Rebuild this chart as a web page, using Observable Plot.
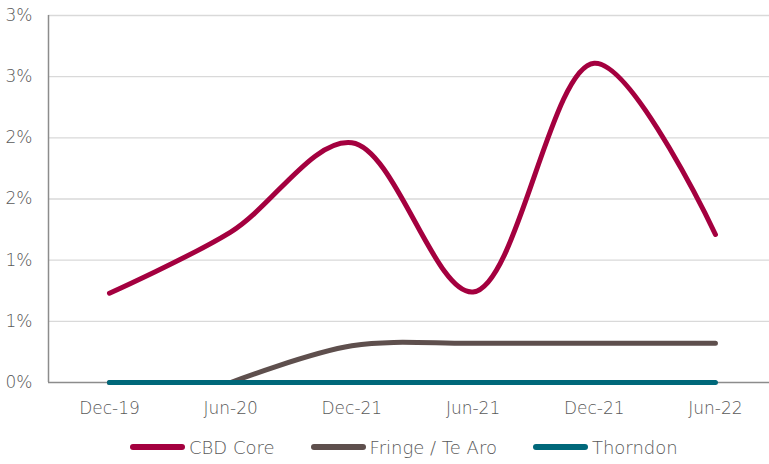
<!DOCTYPE html>
<html>
<head>
<meta charset="utf-8">
<script src="https://cdn.jsdelivr.net/npm/d3@7"></script>
<script src="https://cdn.jsdelivr.net/npm/@observablehq/plot@0.6"></script>
<style>
  html, body { margin: 0; padding: 0; background: #fff; }
  #chart { width: 769px; }
  svg text { font-weight: 200; }
  .legend { display: flex; justify-content: flex-start; align-items: center; height: 34px; padding-left: 130px;
    font-family: "DejaVu Sans", sans-serif; font-weight: 200; font-size: 18px; color: #595959; }
  .legend .item { display: flex; align-items: center; margin-right: 36px; }
  .legend .sw { width: 55px; height: 6px; border-radius: 3px; margin-right: 4px; }
</style>
</head>
<body>
<div id="chart"></div>
<script>
const categories = ["Dec-19", "Jun-20", "Dec-21", "Jun-21", "Dec-21", "Jun-22"];
const cbdCore = [0.73, 1.23, 1.96, 0.74, 2.61, 1.21];
const fringeTeAro = [0, 0, 0.30, 0.32, 0.32, 0.32];
const thorndon = [0, 0, 0, 0, 0, 0];
const yTicks = [0, 0.5, 1, 1.5, 2, 2.5, 3];
const yTickLabels = ["0%", "1%", "1%", "2%", "2%", "3%", "3%"];
const seriesNames = ["CBD Core", "Fringe / Te Aro", "Thorndon"];
const seriesColors = ["#A4003F", "#5E4F4D", "#00687A"];

const rows = (name, vals) => vals.map((v, i) => ({series: name, i, v}));
const cbdData = rows(seriesNames[0], cbdCore);
const fringeData = rows(seriesNames[1], fringeTeAro);
const thorndonData = rows(seriesNames[2], thorndon);
// the flat start of the Fringe series is drawn straight, the rest smoothed
const firstRise = fringeTeAro.findIndex(v => v > 0) - 1;

const lineOpts = {x: "i", y: "v", strokeWidth: 5, strokeLinecap: "round", strokeLinejoin: "round"};

const chart = Plot.plot({
  width: 769,
  height: 430,
  marginTop: 15,
  marginBottom: 48,
  marginLeft: 48,
  marginRight: 0,
  style: {fontFamily: "DejaVu Sans, sans-serif", fontSize: "17px", color: "#595959", background: "#fff"},
  x: {type: "linear", domain: [-0.503, 5.446], ticks: d3.range(categories.length),
      tickFormat: i => categories[i], tickSize: 0, tickPadding: 19, label: null},
  y: {domain: [0, 3], ticks: yTicks, tickFormat: (d) => yTickLabels[yTicks.indexOf(d)],
      tickSize: 0, tickPadding: 16, label: null},
  marks: [
    Plot.gridY(yTicks.slice(1), {stroke: "#d9d9d9", strokeOpacity: 1, strokeWidth: 1.3}),
    Plot.ruleX([-0.503], {stroke: "#8c8c8c", strokeWidth: 1.5}),
    Plot.ruleY([0], {stroke: "#8c8c8c", strokeWidth: 1.5}),
    Plot.line(cbdData, {...lineOpts, stroke: seriesColors[0], curve: "catmull-rom"}),
    Plot.line(fringeData.filter(d => d.i <= firstRise), {...lineOpts, stroke: seriesColors[1], curve: "linear"}),
    Plot.line(fringeData.filter(d => d.i >= firstRise), {...lineOpts, stroke: seriesColors[1], curve: "catmull-rom"}),
    Plot.line(thorndonData, {...lineOpts, stroke: seriesColors[2], curve: "catmull-rom"})
  ]
});
const root = document.getElementById("chart");
root.appendChild(chart);

const legend = document.createElement("div");
legend.className = "legend";
seriesNames.forEach((s, i) => {
  const it = document.createElement("div");
  it.className = "item";
  const sw = document.createElement("div");
  sw.className = "sw";
  sw.style.background = seriesColors[i];
  const t = document.createElement("span");
  t.textContent = s;
  it.appendChild(sw); it.appendChild(t);
  legend.appendChild(it);
});
root.appendChild(legend);
</script>
</body>
</html>
